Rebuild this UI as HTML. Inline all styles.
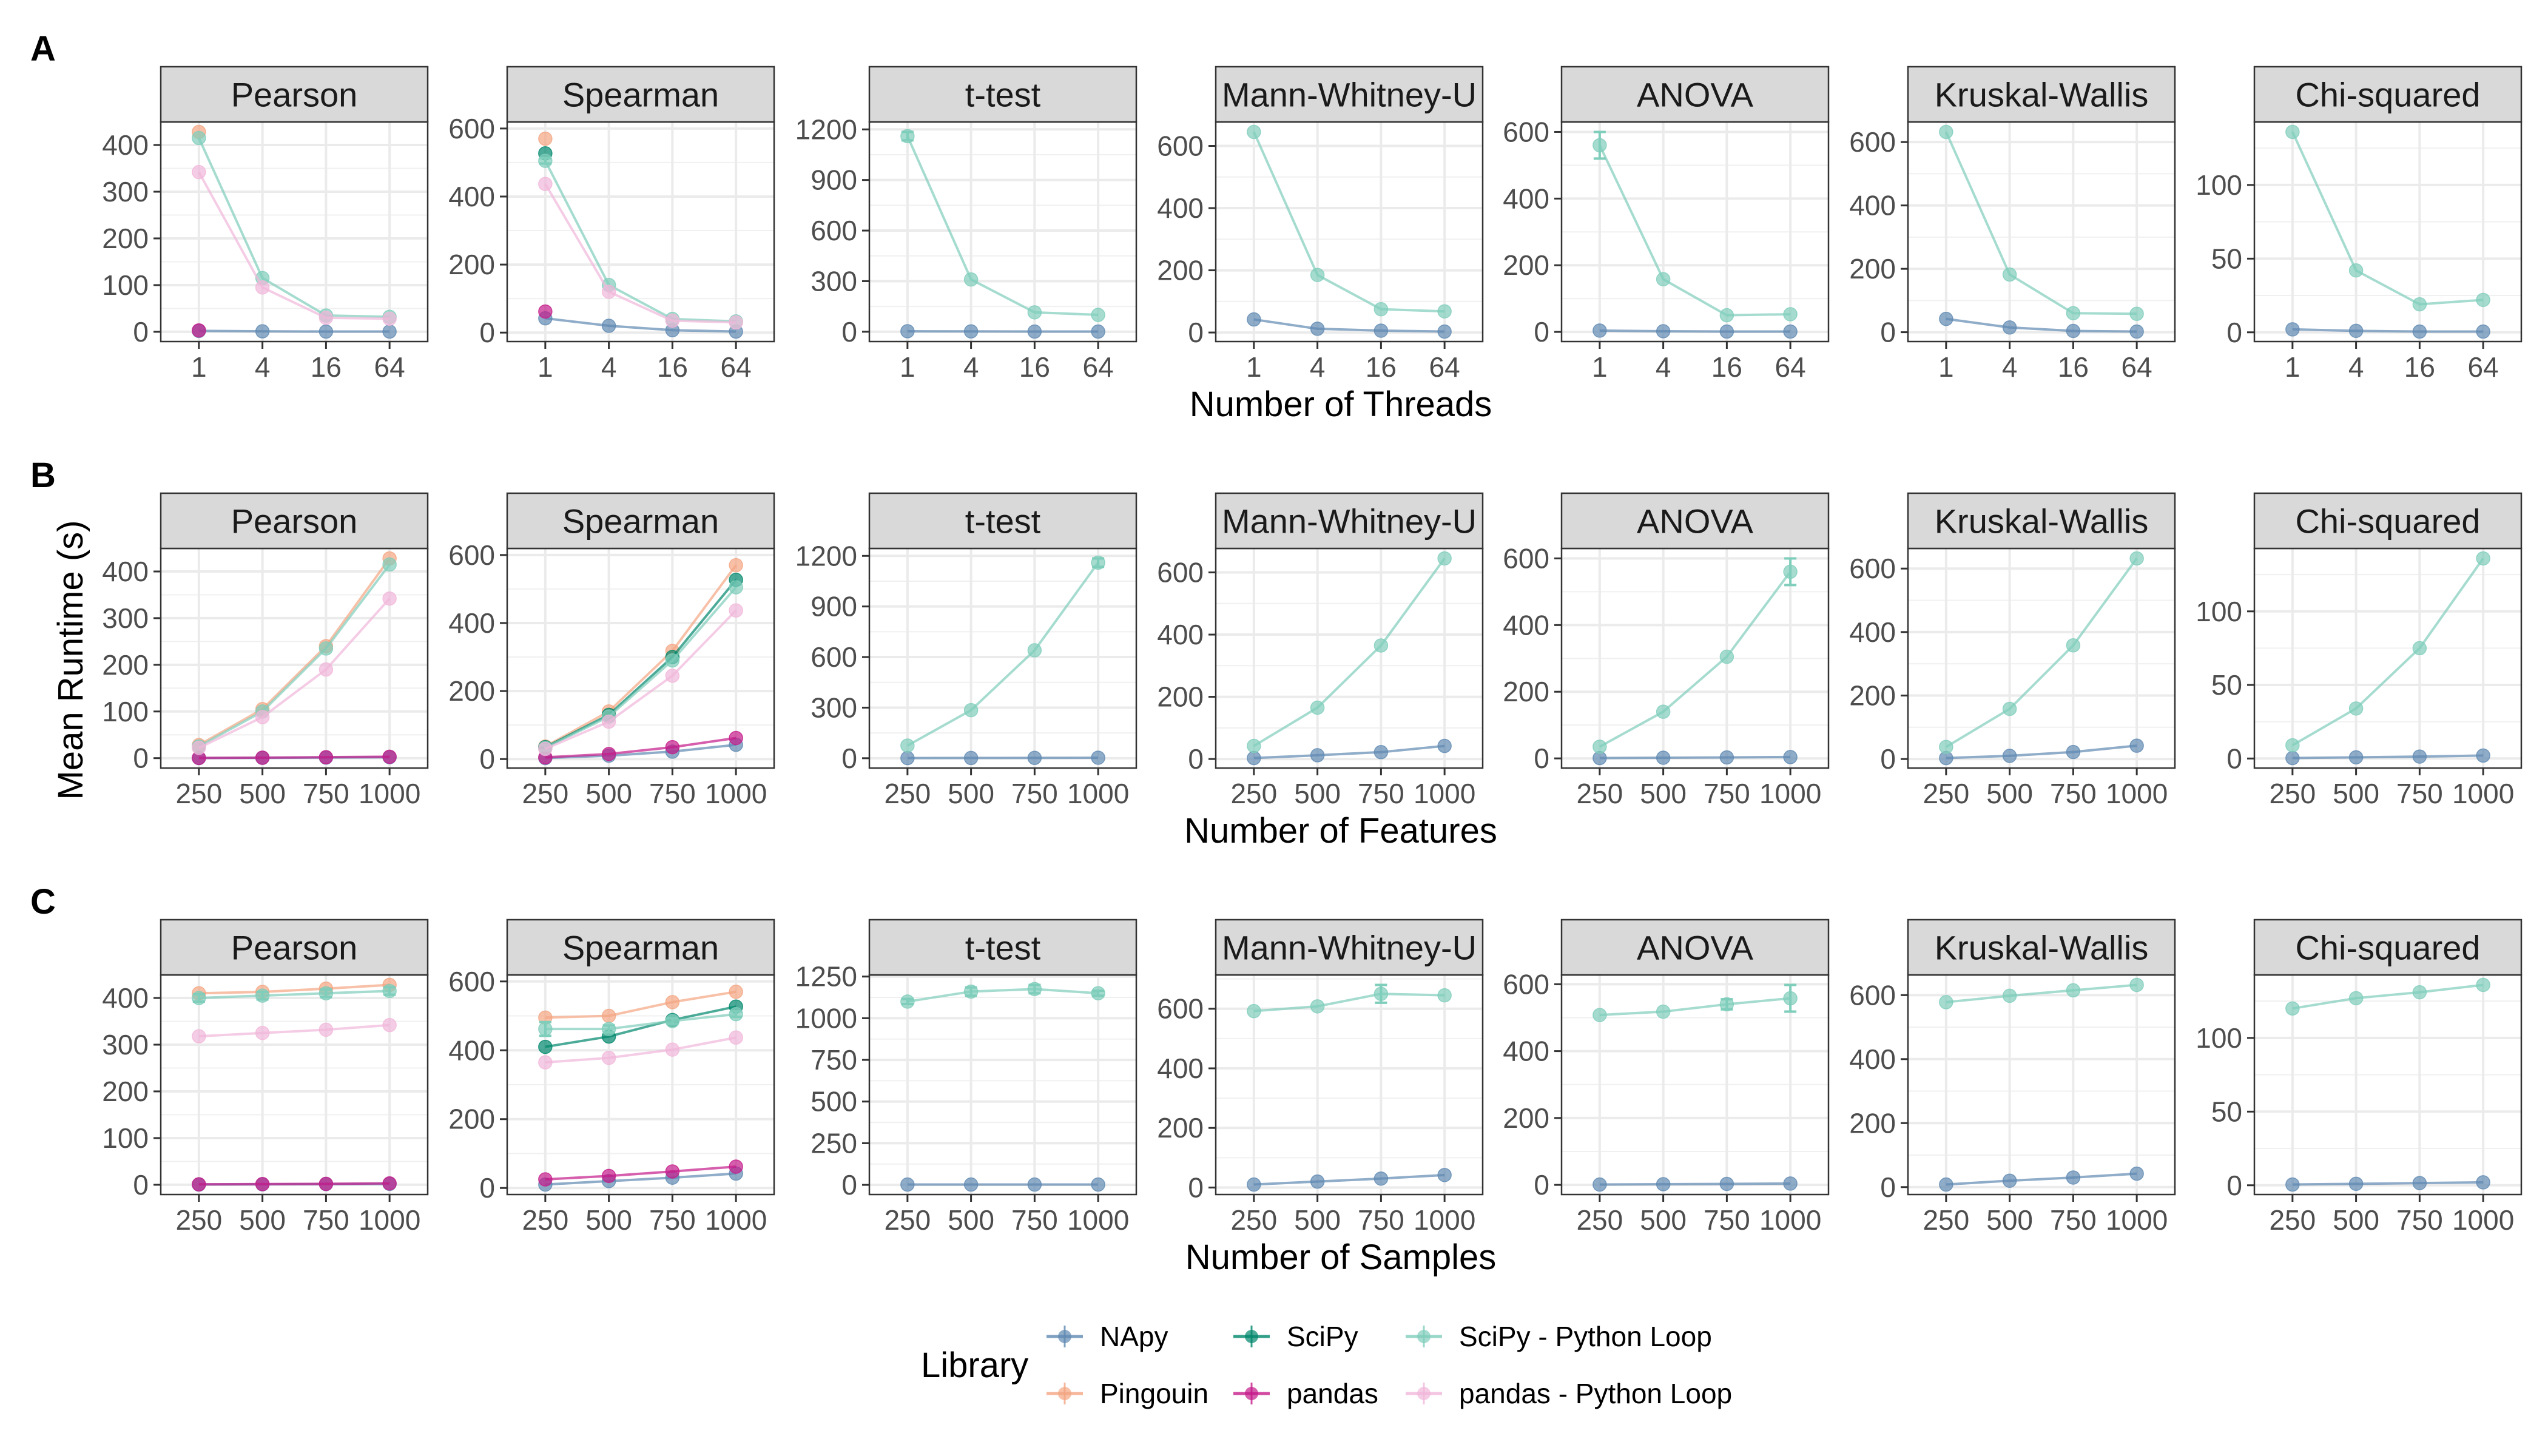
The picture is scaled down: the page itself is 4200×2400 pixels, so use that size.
<!DOCTYPE html>
<html><head><meta charset="utf-8"><style>
html,body{margin:0;padding:0;background:#fff;}
svg{display:block;font-family:"Liberation Sans",Arial,sans-serif;}
</style></head><body>
<svg id="fig" width="4200" height="2400" viewBox="0 0 4200 2400" xmlns="http://www.w3.org/2000/svg"></svg>
<script>
// ---- categories / labels ----
const tests = ['Pearson','Spearman','t-test','Mann-Whitney-U','ANOVA','Kruskal-Wallis','Chi-squared'];
const xCatsA = ['1','4','16','64'];
const xCatsB = ['250','500','750','1000'];
const xCatsC = ['250','500','750','1000'];
const xTitles = ['Number of Threads','Number of Features','Number of Samples'];
const rowLetters = ['A','B','C'];
const seriesNames = ['NApy','Pingouin','SciPy','pandas','SciPy - Python Loop','pandas - Python Loop'];
const seriesColors = ['#5f89b2','#f4a582','#00876c','#c51b8a','#7fcdbb','#f1b6da'];
// tick labels per panel
const yTicksA = [[0,100,200,300,400],[0,200,400,600],[0,300,600,900,1200],[0,200,400,600],[0,200,400,600],[0,200,400,600],[0,50,100]];
const yTicksB = [[0,100,200,300,400],[0,200,400,600],[0,300,600,900,1200],[0,200,400,600],[0,200,400,600],[0,200,400,600],[0,50,100]];
const yTicksC = [[0,100,200,300,400],[0,200,400,600],[0,250,500,750,1000,1250],[0,200,400,600],[0,200,400,600],[0,200,400,600],[0,50,100]];

// ---- series values: per panel, order NApy, Pingouin, SciPy, pandas, SciPy-loop, pandas-loop ----
const N = null;
// Row A (threads)
const A_pearson  = [[2,1,0.5,0.5],[428,N,N,N],[N,N,N,N],[3,N,N,N],[415,115,35,32],[342,95,30,28]];
const A_spearman = [[42,20,7,3],[570,N,N,N],[527,N,N,N],[62,N,N,N],[505,140,40,33],[437,120,35,30]];
const A_ttest    = [[3,2,1,1],[N,N,N,N],[N,N,N,N],[N,N,N,N],[1160,310,115,100],[N,N,N,N]];
const A_mwu      = [[42,12,6,3],[N,N,N,N],[N,N,N,N],[N,N,N,N],[645,185,75,68],[N,N,N,N]];
const A_anova    = [[4,2,1,1],[N,N,N,N],[N,N,N,N],[N,N,N,N],[560,158,50,53],[N,N,N,N]];
const A_kw       = [[42,15,4,2],[N,N,N,N],[N,N,N,N],[N,N,N,N],[632,182,60,58],[N,N,N,N]];
const A_chi      = [[2,1,0.5,0.5],[N,N,N,N],[N,N,N,N],[N,N,N,N],[136,42,19,22],[N,N,N,N]];
// Row B (features)
const B_pearson  = [[0.2,0.6,1.2,2],[28,105,240,428],[N,N,N,N],[0.5,1,2,3],[25,100,235,415],[22,88,190,342]];
const B_spearman = [[3,10,22,42],[37,140,318,570],[35,130,300,527],[5,15,35,62],[33,125,290,505],[30,110,245,437]];
const B_ttest    = [[1,1.5,2,3],[N,N,N,N],[N,N,N,N],[N,N,N,N],[75,285,640,1160],[N,N,N,N]];
const B_mwu      = [[3,12,22,42],[N,N,N,N],[N,N,N,N],[N,N,N,N],[42,165,365,645],[N,N,N,N]];
const B_anova    = [[1,2,3,4],[N,N,N,N],[N,N,N,N],[N,N,N,N],[35,140,305,560],[N,N,N,N]];
const B_kw       = [[3,10,22,42],[N,N,N,N],[N,N,N,N],[N,N,N,N],[38,158,358,632],[N,N,N,N]];
const B_chi      = [[0.3,0.8,1.3,2],[N,N,N,N],[N,N,N,N],[N,N,N,N],[9,34,75,136],[N,N,N,N]];
// Row C (samples)
const C_pearson  = [[0.5,1,1.5,2],[410,413,420,428],[N,N,N,N],[1,1.5,2,3],[400,405,410,415],[318,325,332,342]];
const C_spearman = [[10,20,30,42],[495,500,540,570],[410,440,488,527],[25,35,48,62],[462,462,485,505],[365,378,402,437]];
const C_ttest    = [[2,2,2,2],[N,N,N,N],[N,N,N,N],[N,N,N,N],[1100,1160,1175,1150],[N,N,N,N]];
const C_mwu      = [[10,20,30,42],[N,N,N,N],[N,N,N,N],[N,N,N,N],[592,608,650,645],[N,N,N,N]];
const C_anova    = [[1,2,3,4],[N,N,N,N],[N,N,N,N],[N,N,N,N],[508,518,540,558],[N,N,N,N]];
const C_kw       = [[8,20,30,42],[N,N,N,N],[N,N,N,N],[N,N,N,N],[578,598,615,632],[N,N,N,N]];
const C_chi      = [[0.5,1,1.5,2],[N,N,N,N],[N,N,N,N],[N,N,N,N],[120,127,131,136],[N,N,N,N]];
// error bar half-widths for SciPy - Python Loop
const A_loopErr = [[0,0,0,0],[8,0,0,0],[25,0,0,0],[0,0,0,0],[40,0,0,0],[0,0,0,0],[0,0,0,0]];
const B_loopErr = [[0,0,0,0],[8,0,0,0],[0,0,0,25],[0,0,0,0],[0,0,0,40],[0,0,0,0],[0,0,0,0]];
const C_loopErr = [[8,8,8,8],[20,10,8,8],[15,25,25,15],[0,0,30,0],[0,0,15,40],[0,0,0,0],[0,0,0,0]];
// upper data extent of error bars on other series (e.g. Pingouin / SciPy in Spearman)
const A_extraMax = [0,590,0,0,0,0,0];
const B_extraMax = [0,590,0,0,0,0,0];
const C_extraMax = [0,590,0,0,0,0,0];

const rowsData = [
  [A_pearson,A_spearman,A_ttest,A_mwu,A_anova,A_kw,A_chi],
  [B_pearson,B_spearman,B_ttest,B_mwu,B_anova,B_kw,B_chi],
  [C_pearson,C_spearman,C_ttest,C_mwu,C_anova,C_kw,C_chi]];
const rowsTicks = [yTicksA,yTicksB,yTicksC];
const rowsErr = [A_loopErr,B_loopErr,C_loopErr];
const rowsExtra = [A_extraMax,B_extraMax,C_extraMax];
const rowsCats = [xCatsA,xCatsB,xCatsC];

// ---- layout ----
const svg = document.getElementById('fig');
const NS = 'http://www.w3.org/2000/svg';
function mk(tag, attrs, parent, text){
  const e = document.createElementNS(NS, tag);
  for (const k in attrs) e.setAttribute(k, attrs[k]);
  if (text !== undefined) e.textContent = text;
  (parent||svg).appendChild(e);
  return e;
}
const panelLefts = [265, 836, 1433, 2004, 2574, 3145, 3716];
const panelW = 440;
const stripTop0 = 110, stripH = 91, plotH = 362, rowStep = 703;

for (let r = 0; r < 3; r++) {
  const stripTop = stripTop0 + r*rowStep;
  const plotTop = stripTop + stripH;
  const plotBot = plotTop + plotH;
  const rowG = mk('g', {});
  
  
  const letter = mk('text', {x:50, y:stripTop0 + r*rowStep - 10, 'font-size':58, 'font-weight':'bold', fill:'#000'}, rowG, rowLetters[r]);
  
  

  for (let p = 0; p < 7; p++) {
    const L = panelLefts[p], R = L + panelW;
    const data = rowsData[r][p], ticks = rowsTicks[r][p], errs = rowsErr[r][p], cats = rowsCats[r];
    const g = mk('g', {}, rowG);
    
    
    // y domain
    let mn = Infinity, mx = rowsExtra[r][p] || -Infinity;
    data.forEach((s, si) => s.forEach((v, i) => { if (v === null) return;
      const e = si === 4 ? errs[i] : 0; mn = Math.min(mn, v - e); mx = Math.max(mx, v + e); }));
    const span = mx - mn; const d0 = mn - 0.05*span, d1 = mx + 0.05*span;
    const y = v => plotBot - (v - d0) / (d1 - d0) * plotH;
    const unit = panelW / 4.2;
    const x = i => L + (0.6 + i) * unit;
    // background & grid
    mk('rect', {x:L, y:plotTop, width:panelW, height:plotH, fill:'#fff'}, g);
    const step = ticks[1] - ticks[0];
    for (let t = ticks[0] - step/2; t <= d1; t += step) {
      if (t < d0) continue;
      mk('line', {x1:L, x2:R, y1:y(t), y2:y(t), stroke:'#f0f0f0', 'stroke-width':2}, g);
    }
    ticks.forEach(t => { if (t < d0 || t > d1) return;
      mk('line', {x1:L, x2:R, y1:y(t), y2:y(t), stroke:'#ebebeb', 'stroke-width':4}, g); });
    cats.forEach((c, i) => mk('line', {x1:x(i), x2:x(i), y1:plotTop, y2:plotBot, stroke:'#ebebeb', 'stroke-width':4}, g));
    // series
    data.forEach((s, si) => {
      const col = seriesColors[si];
      const sg = mk('g', {}, g);
      
      
      const pts = [];
      s.forEach((v, i) => { if (v !== null) pts.push([x(i), y(v)]); });
      if (pts.length > 1) mk('polyline', {points:pts.map(q=>q.join(',')).join(' '), fill:'none', stroke:col, 'stroke-width':4, 'stroke-opacity':0.7}, sg);
      s.forEach((v, i) => { if (v === null) return;
        const e = si === 4 ? errs[i] : 0;
        if (e > 0) {
          mk('line', {x1:x(i), x2:x(i), y1:y(v-e), y2:y(v+e), stroke:col, 'stroke-width':4}, sg);
          mk('line', {x1:x(i)-10, x2:x(i)+10, y1:y(v-e), y2:y(v-e), stroke:col, 'stroke-width':4}, sg);
          mk('line', {x1:x(i)-10, x2:x(i)+10, y1:y(v+e), y2:y(v+e), stroke:col, 'stroke-width':4}, sg);
        }
        const c = mk('circle', {cx:x(i), cy:y(v), r:11, fill:col, 'fill-opacity':0.7, stroke:col, 'stroke-opacity':0.8, 'stroke-width':1.5}, sg);
        
        
      });
    });
    // border
    mk('rect', {x:L, y:plotTop, width:panelW, height:plotH, fill:'none', stroke:'#333', 'stroke-width':2.5}, g);
    // strip
    const st = mk('rect', {x:L, y:stripTop, width:panelW, height:stripH, fill:'#d9d9d9', stroke:'#333', 'stroke-width':2.5}, g);
    
    
    const stt = mk('text', {x:L + panelW/2, y:stripTop + stripH/2 + 20, 'font-size':56, 'text-anchor':'middle', fill:'#1a1a1a'}, g, tests[p]);
    
    
    // y ticks
    ticks.forEach(t => { if (t < d0 || t > d1) return;
      mk('line', {x1:L-12, x2:L, y1:y(t), y2:y(t), stroke:'#333', 'stroke-width':3}, g);
      const tl = mk('text', {x:L-20, y:y(t)+16, 'font-size':46, 'text-anchor':'end', fill:'#4d4d4d'}, g, String(t));
      
      
    });
    // x ticks
    cats.forEach((c, i) => {
      mk('line', {x1:x(i), x2:x(i), y1:plotBot, y2:plotBot+12, stroke:'#333', 'stroke-width':3}, g);
      const tl = mk('text', {x:x(i), y:plotBot+58, 'font-size':46, 'text-anchor':'middle', fill:'#4d4d4d'}, g, c);
      
      
    });
  }
  const xt = mk('text', {x:2210, y:plotBot + 123, 'font-size':58, 'text-anchor':'middle', fill:'#000'}, rowG, xTitles[r]);
  
  
}
const yt = mk('text', {x:0, y:0, 'font-size':58, 'text-anchor':'middle', fill:'#000', transform:'translate(136,1088) rotate(-90)'}, svg, 'Mean Runtime (s)');



// ---- legend ----
const lg = mk('g', {});


const lt = mk('text', {x:1518, y:2270, 'font-size':58, fill:'#000'}, lg, 'Library');


const legCols = [1755, 2063, 2347];
const legRows = [2203, 2297];
const legOrder = [[0,2,4],[1,3,5]];
legOrder.forEach((row, ri) => row.forEach((si, ci) => {
  const cx = legCols[ci], cy = legRows[ri], col = seriesColors[si];
  const e = mk('g', {}, lg);
  
  
  mk('line', {x1:cx-30, x2:cx+30, y1:cy, y2:cy, stroke:col, 'stroke-width':5, 'stroke-opacity':0.8}, e);
  mk('line', {x1:cx, x2:cx, y1:cy-18, y2:cy+18, stroke:col, 'stroke-width':3, 'stroke-opacity':0.8}, e);
  mk('circle', {cx:cx, cy:cy, r:11, fill:col, 'fill-opacity':0.7}, e);
  mk('text', {x:cx+58, y:cy+16, 'font-size':46, fill:'#000'}, e, seriesNames[si]);
}));
</script>
</body></html>
